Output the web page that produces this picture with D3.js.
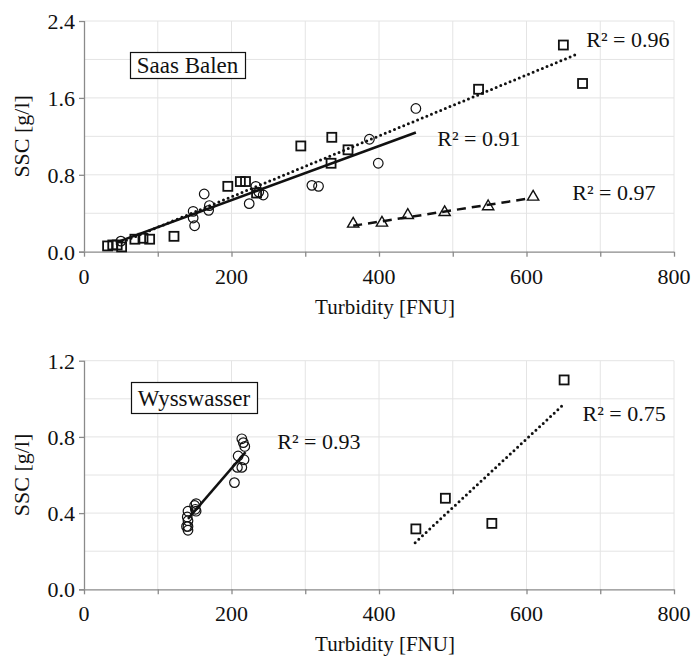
<!DOCTYPE html>
<html>
<head>
<meta charset="utf-8">
<script src="https://cdn.jsdelivr.net/npm/d3@7"></script>
</head>
<body style="margin:0">
<div id="chart"></div>
<script>
// Saas Balen - circles (solid trend), squares (dotted trend), triangles (dashed trend)
const sbCircles = [
  [50, 0.11], [148, 0.42], [148, 0.35], [150, 0.27], [163, 0.60], [170, 0.48],
  [169, 0.43], [224, 0.50], [233, 0.68], [237, 0.62], [243, 0.59], [309, 0.69],
  [318, 0.68], [387, 1.17], [399, 0.92], [450, 1.49]
];
const sbSquares = [
  [32, 0.06], [39, 0.07], [45, 0.07], [51, 0.05], [69, 0.13], [80, 0.14], [89, 0.13],
  [122, 0.16], [195, 0.68], [212, 0.73], [219, 0.73], [234, 0.61], [294, 1.10],
  [336, 1.19], [335, 0.92], [358, 1.06], [535, 1.69], [650, 2.15], [676, 1.75]
];
const sbTriangles = [
  [365, 0.29], [404, 0.30], [439, 0.38], [489, 0.41], [548, 0.47], [609, 0.57]
];
const sbSolidTrend = [[45, 0.10], [450, 1.24]];
const sbDottedTrend = [[45, 0.08], [670, 2.06]];
const sbDashedTrend = [[365, 0.27], [600, 0.55]];

// Wysswasser - circles (solid trend), squares (dotted trend)
const wwCircles = [
  [141, 0.31], [141, 0.33], [139, 0.33], [141, 0.36], [140, 0.38], [141, 0.41],
  [150, 0.44], [151, 0.42], [152, 0.45], [152, 0.41], [204, 0.56], [208, 0.64],
  [209, 0.70], [214, 0.64], [217, 0.68], [214, 0.79], [216, 0.77], [218, 0.75]
];
const wwSquares = [[450, 0.317], [490, 0.478], [553, 0.346], [651, 1.099]];
const wwSolidTrend = [[141, 0.37], [219, 0.72]];
const wwDottedTrend = [[449, 0.245], [651, 0.973]];

const xTicks = [0, 100, 200, 300, 400, 500, 600, 700, 800];
const xLabels = [0, 200, 400, 600, 800];

const width = 693, height = 658;
const svg = d3.select("#chart").append("svg")
  .attr("width", width).attr("height", height);

const x = d3.scaleLinear().domain([0, 800]).range([84, 674]);

// text drawn at 30px and scaled down to the wanted size
function label(parent, tx, ty, size, str, anchor, rot) {
  return parent.append("g")
    .attr("transform", `translate(${tx},${ty}) rotate(${rot || 0}) scale(${size / 30})`)
    .append("text")
    .style("font-family", '"Liberation Serif"').style("font-size", "30px")
    .attr("fill", "#111").attr("text-anchor", anchor || "start")
    .text(str);
}

function drawPanel(p) {
  const y = d3.scaleLinear().domain([0, p.yMax]).range([p.bottom, p.top]);
  const g = svg.append("g");

  // grid
  g.append("g").selectAll("line").data(p.yGrid).join("line")
    .attr("x1", x(0)).attr("x2", x(800))
    .attr("y1", d => y(d)).attr("y2", d => y(d))
    .attr("stroke", "#e4e4e4").attr("stroke-width", 1);
  g.append("g").selectAll("line").data(xTicks.slice(1)).join("line")
    .attr("x1", d => x(d)).attr("x2", d => x(d))
    .attr("y1", y(0)).attr("y2", y(p.yMax))
    .attr("stroke", "#e4e4e4").attr("stroke-width", 1);

  // axes (lines and ticks only; labels drawn below)
  const gx = g.append("g").attr("transform", `translate(0,${y(0)})`)
    .call(d3.axisBottom(x).tickValues(xTicks).tickSize(5).tickFormat(""));
  gx.selectAll("path, line").attr("stroke", "#8a8a8a").attr("stroke-width", 1.3);
  gx.select(".domain").attr("d", `M${x(0) - 5},0.5H${x(800)}`);

  const gy = g.append("g").attr("transform", `translate(${x(0)},0)`)
    .call(d3.axisLeft(y).tickValues(p.yTicks).tickSize(5).tickFormat(""));
  gy.select(".domain").attr("d", `M0.5,${y(p.yMax)}V${y(0)}`);
  gy.selectAll("path, line").attr("stroke", "#8a8a8a").attr("stroke-width", 1.3);

  xLabels.forEach(v => label(g, x(v), y(0) + 32, 22, v, "middle"));
  p.yTicks.forEach(v => label(g, x(0) - 9, y(v) + 8, 22, d3.format(".1f")(v), "end"));

  // titles
  label(g, 385, p.bottom + 62, 21, "Turbidity [FNU]", "middle");
  label(g, 29, (p.top + p.bottom) / 2, 22, "SSC [g/l]", "middle", -90);

  // site label box
  g.append("rect").attr("x", p.box[0] + 0.5).attr("y", p.box[1] + 0.5)
    .attr("width", p.box[2]).attr("height", p.box[3])
    .attr("fill", "#fff").attr("stroke", "#111").attr("stroke-width", 1.2);
  label(g, p.box[0] + p.box[2] / 2, p.box[1] + p.box[3] / 2 + 8, 23, p.site, "middle");

  const line = d3.line().x(d => x(d[0])).y(d => y(d[1]));
  p.trends.forEach(t => {
    g.append("path").datum(t.data).attr("d", line)
      .attr("fill", "none").attr("stroke", "#111")
      .attr("stroke-width", t.width)
      .attr("stroke-dasharray", t.dash)
      .attr("stroke-linecap", t.cap);
  });

  // markers
  p.series.forEach(s => {
    const mg = g.append("g");
    if (s.shape === "circle") {
      mg.selectAll("circle").data(s.data).join("circle")
        .attr("cx", d => x(d[0])).attr("cy", d => y(d[1])).attr("r", 4.8)
        .attr("fill", "none").attr("stroke", "#111").attr("stroke-width", 1.2);
    } else if (s.shape === "square") {
      mg.selectAll("rect").data(s.data).join("rect")
        .attr("x", d => x(d[0]) - 4.5).attr("y", d => y(d[1]) - 4.5)
        .attr("width", 9).attr("height", 9)
        .attr("fill", "none").attr("stroke", "#111").attr("stroke-width", 1.8);
    } else {
      const tri = d3.symbol().type(d3.symbolTriangle).size(55);
      mg.selectAll("path").data(s.data).join("path")
        .attr("transform", d => `translate(${x(d[0])},${y(d[1])})`)
        .attr("d", tri)
        .attr("fill", "none").attr("stroke", "#111").attr("stroke-width", 1.4);
    }
  });

  p.labels.forEach(l => label(g, x(l[0]), y(l[1]), 22, l[2], "start"));
}

drawPanel({
  site: "Saas Balen",
  yMax: 2.4, top: 21, bottom: 251.7,
  yTicks: [0, 0.8, 1.6, 2.4],
  yGrid: [0.4, 0.8, 1.2, 1.6, 2.0, 2.4],
  box: [130, 52, 115, 26],
  trends: [
    { data: sbDottedTrend, width: 3, dash: "0,5", cap: "round" },
    { data: sbSolidTrend, width: 2.5, dash: null, cap: "butt" },
    { data: sbDashedTrend, width: 2.5, dash: "9,6", cap: "butt" }
  ],
  series: [
    { shape: "circle", data: sbCircles },
    { shape: "square", data: sbSquares },
    { shape: "triangle", data: sbTriangles }
  ],
  labels: [
    [681, 2.13, "R² = 0.96"],
    [479, 1.10, "R² = 0.91"],
    [662, 0.54, "R² = 0.97"]
  ]
});

drawPanel({
  site: "Wysswasser",
  yMax: 1.2, top: 360.7, bottom: 589.3,
  yTicks: [0, 0.4, 0.8, 1.2],
  yGrid: [0.2, 0.4, 0.6, 0.8, 1.0, 1.2],
  box: [131, 382, 126, 31],
  trends: [
    { data: wwSolidTrend, width: 2.5, dash: null, cap: "butt" },
    { data: wwDottedTrend, width: 3, dash: "0,5", cap: "round" }
  ],
  series: [
    { shape: "circle", data: wwCircles },
    { shape: "square", data: wwSquares }
  ],
  labels: [
    [262, 0.735, "R² = 0.93"],
    [676, 0.885, "R² = 0.75"]
  ]
});
</script>
</body>
</html>
